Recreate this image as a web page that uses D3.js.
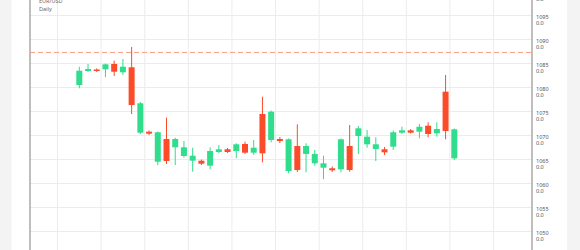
<!DOCTYPE html>
<html>
<head>
<meta charset="utf-8">
<script src="https://cdn.jsdelivr.net/npm/d3@7"></script>
<style>
  body { margin: 0; background: #f3f3f3; }
  svg { display: block; font-family: "Noto Sans", sans-serif; }
</style>
</head>
<body>
<div id="chart"></div>
<script>

// daily candles, EUR/USD
const opens  = [1080.52, 1083.44, 1083.75, 1083.79, 1084.90, 1083.17, 1084.21, 1070.58, 1070.79, 1064.54,
                1069.27, 1067.54, 1065.73, 1064.75, 1064.75, 1063.71, 1066.56, 1067.13, 1066.77, 1068.23,
                1066.42, 1074.48, 1069.06, 1069.27, 1062.60, 1067.81, 1066.15, 1064.21, 1063.29, 1063.17,
                1062.96, 1067.81, 1069.90, 1068.17, 1067.19, 1067.13, 1067.67, 1070.58, 1071.08, 1070.79,
                1072.04, 1070.46, 1079.13, 1065.25];
const highs  = [1084.33, 1084.90, 1083.96, 1085.00, 1085.58, 1085.94, 1088.44, 1076.98, 1071.04, 1070.83,
                1073.71, 1069.54, 1068.85, 1067.46, 1065.00, 1067.54, 1068.02, 1067.40, 1068.38, 1068.71,
                1069.06, 1078.08, 1075.20, 1069.70, 1069.38, 1072.33, 1068.38, 1066.98, 1065.79, 1063.54,
                1069.38, 1072.19, 1071.98, 1071.15, 1069.63, 1067.60, 1071.04, 1071.83, 1071.35, 1072.40,
                1072.75, 1072.75, 1082.60, 1071.46];
const lows   = [1079.83, 1083.23, 1083.23, 1082.19, 1082.40, 1082.60, 1074.48, 1070.30, 1070.10, 1063.85,
                1064.06, 1063.85, 1065.38, 1062.46, 1063.85, 1062.96, 1066.29, 1066.35, 1065.25, 1066.15,
                1065.94, 1064.42, 1068.58, 1068.44, 1062.13, 1062.40, 1062.33, 1063.71, 1060.87, 1062.40,
                1062.33, 1062.46, 1066.15, 1067.46, 1064.69, 1065.94, 1066.98, 1070.31, 1070.42, 1069.42,
                1069.63, 1069.75, 1069.21, 1064.90];
const closes = [1083.50, 1083.85, 1083.44, 1084.83, 1083.29, 1084.33, 1076.35, 1076.71, 1070.38, 1070.67,
                1064.69, 1069.27, 1067.54, 1065.79, 1064.13, 1066.77, 1067.13, 1066.56, 1068.17, 1066.42,
                1067.46, 1066.29, 1074.96, 1068.85, 1069.21, 1062.81, 1067.81, 1066.15, 1064.21, 1062.75,
                1069.21, 1062.81, 1071.50, 1069.75, 1068.17, 1066.50, 1070.67, 1071.08, 1070.58, 1071.83,
                1070.31, 1071.35, 1070.94, 1071.29];

const priceTicks = [1050, 1055, 1060, 1065, 1070, 1075, 1080, 1085, 1090, 1095, 1100];
const weekLines = [-2.5, 2.5, 7.5, 12.5, 17.5, 22.5, 27.5, 32.5, 37.5, 42.5, 47.5];
const lastPrice = 1087.3;
const symbol = "EUR/USD";
const period = "Daily";

const width = 580, height = 250;
const plotLeft = 30, plotRight = 532;

const candles = opens.map((o, i) => ({
  i: i, open: o, high: highs[i], low: lows[i], close: closes[i]
}));

let x = d3.scaleLinear().domain([0, 43]).range([79.3, 454.3]);
let y = d3.scaleLinear().domain([1050, 1090]).range([231.5, 39.5]);

const up = "#2fdd8c", down = "#fb4b29";

let svg = d3.select("#chart")
  .append("svg")
  .attr("width", width)
  .attr("height", height);

// white panel
svg.append("rect")
  .attr("x", 11.5).attr("y", 0)
  .attr("width", 567 - 11.5).attr("height", height)
  .attr("fill", "#fff");

// grid
svg.append("g")
  .selectAll("line")
  .data(priceTicks)
  .enter()
  .append("line")
  .attr("x1", plotLeft).attr("x2", plotRight)
  .attr("y1", d => y(d)).attr("y2", d => y(d))
  .attr("stroke", "#ececec");

svg.append("g")
  .selectAll("line")
  .data(weekLines)
  .enter()
  .append("line")
  .attr("x1", d => x(d)).attr("x2", d => x(d))
  .attr("y1", 0).attr("y2", height)
  .attr("stroke", "#ececec");

// border lines
svg.append("line")
  .attr("x1", plotLeft).attr("x2", plotLeft)
  .attr("y1", 0).attr("y2", height)
  .attr("stroke", "#a8a8a8").attr("stroke-width", 1.5);

svg.append("line")
  .attr("x1", plotRight).attr("x2", plotRight)
  .attr("y1", 0).attr("y2", height)
  .attr("stroke", "#a8a8a8").attr("stroke-width", 1.5);

// right price labels
let labels = svg.append("g")
  .selectAll("text")
  .data(priceTicks)
  .enter()
  .append("text")
  .attr("x", 536)
  .attr("y", d => y(d) + 3)
  .attr("font-size", 5.5)
  .attr("fill", "#555");
labels.append("tspan").text(d => d);
labels.append("tspan").attr("x", 536).attr("dy", 6).text("0.0");

// last price line
svg.append("line")
  .attr("x1", plotLeft).attr("x2", plotRight)
  .attr("y1", y(lastPrice)).attr("y2", y(lastPrice))
  .attr("stroke", "#ff9c86")
  .attr("stroke-dasharray", "5,3");

// title
svg.append("text")
  .attr("x", 39).attr("y", 3)
  .attr("font-size", 5.5).attr("fill", "#666")
  .text(symbol);
svg.append("text")
  .attr("x", 39).attr("y", 10.5)
  .attr("font-size", 5.5).attr("fill", "#666")
  .text(period);

// candles
let g = svg.append("g");

g.selectAll("line.wick")
  .data(candles)
  .enter()
  .append("line")
  .attr("class", "wick")
  .attr("x1", d => x(d.i)).attr("x2", d => x(d.i))
  .attr("y1", d => y(d.high)).attr("y2", d => y(d.low))
  .attr("stroke", d => d.close >= d.open ? up : down)
  .attr("stroke-width", 1);

const bw = 6;
g.selectAll("rect.body")
  .data(candles)
  .enter()
  .append("rect")
  .attr("class", "body")
  .attr("x", d => x(d.i) - bw / 2)
  .attr("width", bw)
  .attr("y", d => y(Math.max(d.open, d.close)))
  .attr("height", d => Math.max(1.5, Math.abs(y(d.open) - y(d.close))))
  .attr("fill", d => d.close >= d.open ? up : down);

</script>
</body>
</html>
